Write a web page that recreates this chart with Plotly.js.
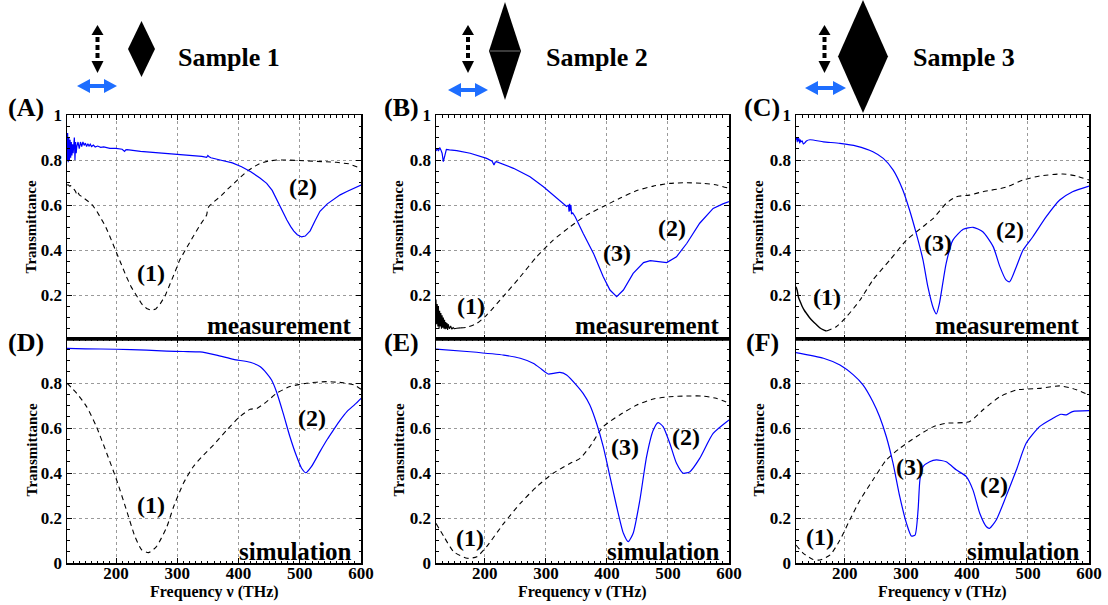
<!DOCTYPE html>
<html><head><meta charset="utf-8">
<script src="https://cdn.plot.ly/plotly-3.0.1.min.js"></script>
<style>html,body{margin:0;padding:0;background:#fff}</style>
</head><body><div id="chart" style="width:1108px;height:605px"></div>
<script>
// ---------------- DATA (frequency in THz, transmittance) ----------------
// Panel A: Sample 1 measurement
const aBlueF = [120,121,122,123,124,125,126,127,128,129, 130,131,132,133,134,135,136,138,140,142, 144,146,148,150,152,154,156,158,160,163, 166,170,175,180,190,200,210,214,216,218, 225,240,260,280,300,320,340,348,350,352, 355,370,390,405,420,435,446,455,462,470, 479,485,490,496,503,509,517,525,533,545, 555,566,577,590,600];
const aBlueT = [0.80,0.92,0.79,0.90,0.80,0.89,0.81,0.88,0.82,0.87, 0.83,0.86,0.90,0.80,0.88,0.83,0.86,0.88,0.85,0.88, 0.86,0.88,0.865,0.875,0.86,0.872,0.862,0.87,0.86,0.866, 0.858,0.862,0.856,0.858,0.852,0.852,0.848,0.838,0.845,0.846, 0.843,0.838,0.834,0.830,0.827,0.822,0.816,0.812,0.82,0.814, 0.81,0.80,0.787,0.77,0.748,0.72,0.696,0.665,0.625,0.58, 0.533,0.505,0.485,0.468,0.458,0.462,0.485,0.53,0.572,0.605, 0.625,0.645,0.66,0.676,0.689];
const aBlackF = [120,122,124,126,128,130,132,134,136,138, 140,145,152,160,168,175,182,190,201,210, 217,225,234,242,250,258,265,272,280,288, 296,304,315,326,337,348,350,352,360,370, 381,392,403,413,424,435,448,462,480,500, 520,540,560,580,600];
const aBlackT = [0.689,0.69,0.684,0.686,0.681,0.676,0.668,0.66,0.646,0.655, 0.645,0.636,0.622,0.605,0.575,0.545,0.51,0.46,0.385,0.33, 0.281,0.235,0.193,0.16,0.14,0.132,0.138,0.16,0.195,0.245, 0.30,0.356,0.41,0.46,0.51,0.555,0.585,0.595,0.615,0.637, 0.667,0.696,0.722,0.748,0.768,0.785,0.795,0.80,0.80,0.797, 0.795,0.793,0.79,0.783,0.763];
// Panel B: Sample 2 measurement
const bBlueF = [120,122,124,126,128,130,132,134,137,142, 154,176,203,212,215,217,219,247,274,296, 318,334,337,338,339,340,341,342,344,348, 361,378,394,405,416,427,443,460,471,487, 498,514,531,552,574,590,600];
const bBlueT = [0.84,0.85,0.84,0.855,0.845,0.83,0.793,0.82,0.847,0.845, 0.842,0.83,0.807,0.795,0.778,0.79,0.793,0.763,0.726,0.681, 0.63,0.593,0.6,0.57,0.605,0.575,0.6,0.56,0.565,0.548, 0.474,0.385,0.281,0.222,0.193,0.222,0.296,0.344,0.353,0.348, 0.344,0.37,0.43,0.519,0.585,0.605,0.615];
const bNoiseF = [120,121,122,123,124,125,126,127,128,129, 130,131,132,133,134,135,136,137,138,139, 140,142,144,146,148,150,154,160];
const bNoiseT = [0.18,0.07,0.16,0.06,0.15,0.05,0.13,0.06,0.12,0.05, 0.11,0.055,0.10,0.05,0.09,0.048,0.08,0.05,0.075,0.045, 0.07,0.05,0.062,0.048,0.055,0.05,0.052,0.054];
const bBlackF = [160,170,187,203,230,258,285,312,340,367, 394,421,449,476,503,531,558,580,600];
const bBlackT = [0.054,0.056,0.074,0.111,0.193,0.281,0.37,0.444,0.504,0.556, 0.593,0.63,0.664,0.684,0.696,0.699,0.696,0.689,0.674];
// Panel C: Sample 3 measurement
const cBlueF = [120,121,122,123,124,125,126,127,128,130, 132,134,137,143,165,192,219,246,263,279, 295,306,317,328,336,345,350,355,366,377, 394,410,426,443,454,464,470,481,492,508, 530,552,573,600];
const cBlueT = [0.89,0.9,0.88,0.9,0.885,0.895,0.875,0.89,0.88,0.885, 0.871,0.875,0.885,0.89,0.881,0.874,0.862,0.837,0.807,0.756, 0.667,0.578,0.474,0.356,0.237,0.141,0.116,0.163,0.341,0.444, 0.492,0.501,0.481,0.415,0.326,0.267,0.259,0.326,0.4,0.459, 0.548,0.622,0.659,0.684];
const cNoiseF = [120,122,124,127,130,134,137,142,148,154, 160,165,170];
const cNoiseT = [0.237,0.22,0.19,0.17,0.15,0.13,0.119,0.1,0.082,0.067, 0.052,0.045,0.04];
const cBlackF = [170,186,203,225,246,274,301,328,345,366, 383,404,426,464,492,519,557,579,600];
const cBlackT = [0.04,0.059,0.104,0.178,0.267,0.356,0.444,0.504,0.541,0.607, 0.637,0.644,0.659,0.679,0.711,0.729,0.738,0.729,0.711];
// Panel D: Sample 1 simulation
const dBlueF = [120,150,200,250,283,310,337,364,392,419, 435,446,454,462,473,484,495,503,510,519, 533,545,555,566,577,590,600];
const dBlueT = [0.954,0.952,0.95,0.946,0.942,0.94,0.938,0.924,0.905,0.892, 0.873,0.843,0.813,0.761,0.665,0.561,0.473,0.421,0.401,0.428, 0.495,0.55,0.591,0.635,0.673,0.705,0.732];
const dBlackF = [120,136,152,168,185,201,217,231,242,253, 266,283,294,310,326,343,359,381,402,419, 430,446,462,484,511,544,571,590,600];
const dBlackT = [0.799,0.754,0.695,0.606,0.487,0.369,0.236,0.117,0.058,0.046, 0.073,0.161,0.25,0.354,0.428,0.48,0.524,0.591,0.65,0.683, 0.687,0.717,0.754,0.784,0.799,0.806,0.801,0.79,0.772];
// Panel E: Sample 2 simulation
const eBlueF = [120,176,231,258,280,293,304,312,323,334, 350,361,372,383,394,405,416,427,435,443, 454,465,476,484,492,503,514,525,536,552, 574,600];
const eBlueT = [0.951,0.939,0.924,0.91,0.887,0.861,0.84,0.843,0.847,0.836, 0.791,0.754,0.702,0.621,0.517,0.384,0.25,0.132,0.095,0.132, 0.28,0.473,0.591,0.624,0.606,0.532,0.443,0.399,0.406,0.465, 0.576,0.636];
const eBlackF = [120,133,149,171,187,203,231,258,285,312, 340,356,372,394,421,449,476,503,530,557, 579,600];
const eBlackT = [0.176,0.117,0.05,0.021,0.028,0.073,0.176,0.265,0.339,0.399, 0.443,0.465,0.517,0.606,0.658,0.702,0.729,0.739,0.742,0.742, 0.732,0.71];
// Panel F: Sample 3 simulation
const fBlueF = [120,165,192,214,230,246,257,268,279,290, 301,309,315,320,323,328,339,350,366,383, 399,410,421,432,437,448,464,481,497,519, 541,554,563,573,600];
const fBlueT = [0.935,0.91,0.88,0.836,0.791,0.717,0.65,0.561,0.443,0.295, 0.176,0.12,0.124,0.236,0.369,0.428,0.45,0.458,0.45,0.413, 0.384,0.324,0.221,0.161,0.154,0.191,0.295,0.413,0.532,0.606, 0.643,0.661,0.658,0.673,0.677];
const fBlackF = [120,132,148,159,176,192,208,225,246,268, 290,317,345,366,404,426,454,481,519,552, 573,600];
const fBlackT = [0.08,0.043,0.016,0.013,0.036,0.102,0.191,0.28,0.369,0.458, 0.51,0.561,0.606,0.621,0.628,0.68,0.739,0.769,0.776,0.787, 0.776,0.747];

// Labels
const sampleNames = ['Sample 1','Sample 2','Sample 3'];
const panelLetters = ['(A)','(B)','(C)','(D)','(E)','(F)'];
const rowNames = ['measurement','simulation'];
const yTitle = 'Transmittance';
const xTitle = 'Frequency ν (THz)';
const topTicks = [0.2,0.4,0.6,0.8,1];
const botTicks = [0,0.2,0.4,0.6,0.8];
const xTicks = [200,300,400,500,600];
// peak labels: [panelIndex, text, freq, T]
const peakLabels = [
  [0,'(1)',257,0.30],[0,'(2)',506,0.68],
  [1,'(1)',177,0.15],[1,'(3)',416,0.385],[1,'(2)',506,0.497],
  [2,'(1)',171,0.193],[2,'(3)',352,0.43],[2,'(2)',470,0.489],
  [3,'(1)',257,0.258],[3,'(2)',520,0.643],
  [4,'(1)',176,0.11],[4,'(3)',429,0.517],[4,'(2)',530,0.561],
  [5,'(1)',159,0.117],[5,'(3)',307,0.428],[5,'(2)',444,0.347]
];

// ---------------- LAYOUT ----------------
const W=1108,H=605;
const PX=v=>v/W, PY=v=>1-v/H;
const FONT='Liberation Serif, Times New Roman, serif';
const cols=[[67,361],[436,729],[796,1089]];
const rows=[[115,340],[338,563]];
const BLUE='rgb(0,0,255)';

const traces=[];
function addLine(p, f, t, color, dash, width, shape){
  const s = p===0?'':String(p+1);
  traces.push({x:f,y:t,xaxis:'x'+s,yaxis:'y'+s,type:'scatter',mode:'lines',
    line:{color:color,width:width,dash:dash,shape:shape||'linear',smoothing:0.6},hoverinfo:'skip',showlegend:false});
}
addLine(0,aBlackF,aBlackT,'#000','5px,4px',1.1);
addLine(0,aBlueF,aBlueT,BLUE,'solid',1.2);
addLine(1,bNoiseF,bNoiseT,'#000','solid',1.1);
addLine(1,bBlackF,bBlackT,'#000','5px,4px',1.1,'spline');
addLine(1,bBlueF,bBlueT,BLUE,'solid',1.2);
addLine(2,cNoiseF,cNoiseT,'#000','solid',1.4,'spline');
addLine(2,cBlackF,cBlackT,'#000','5px,4px',1.1,'spline');
addLine(2,cBlueF,cBlueT,BLUE,'solid',1.2,'spline');
addLine(3,dBlackF,dBlackT,'#000','5px,4px',1.1,'spline');
addLine(3,dBlueF,dBlueT,BLUE,'solid',1.2,'spline');
addLine(4,eBlackF,eBlackT,'#000','5px,4px',1.1,'spline');
addLine(4,eBlueF,eBlueT,BLUE,'solid',1.2,'spline');
addLine(5,fBlackF,fBlackT,'#000','5px,4px',1.1,'spline');
addLine(5,fBlueF,fBlueT,BLUE,'solid',1.2,'spline');

const layout={width:W,height:H,margin:{l:0,r:0,t:0,b:0},paper_bgcolor:'#fff',plot_bgcolor:'#fff',
  showlegend:false,annotations:[],shapes:[]};
const tickfont={family:FONT,size:17,weight:'bold',color:'#000'};
for(let p=0;p<6;p++){
  const c=p%3, r=Math.floor(p/3), s=p===0?'':String(p+1);
  layout['xaxis'+s]={domain:[PX(cols[c][0]),PX(cols[c][1])],anchor:'y'+s,range:[120,600],
    tickmode:'array',tickvals:xTicks,showticklabels:r===1,ticks:'inside',ticklen:5,tickcolor:'#000',
    showline:true,linecolor:'#000',linewidth:1.5,mirror:'allticks',showgrid:true,gridcolor:'#9a9a9a',
    griddash:'dot',gridwidth:1,zeroline:false,tickfont:tickfont,fixedrange:true,ticklabelstandoff:-6,
    minor:{tickmode:'linear',tick0:0,dtick:10,ticks:'inside',ticklen:2.5,tickcolor:'#000',showgrid:false}};
  layout['yaxis'+s]={domain:[PY(rows[r][1]),PY(rows[r][0])],anchor:'x'+s,range:[0,1],
    tickmode:'array',tickvals:r===0?topTicks:botTicks,ticks:'inside',ticklen:5,tickcolor:'#000',
    showline:true,linecolor:'#000',linewidth:1.5,mirror:'allticks',showgrid:true,gridcolor:'#9a9a9a',
    griddash:'dot',gridwidth:1,zeroline:false,tickfont:tickfont,fixedrange:true,ticklabelstandoff:0,
    minor:{tickmode:'linear',tick0:0,dtick:0.05,ticks:'inside',ticklen:2.5,tickcolor:'#000',showgrid:false}};
  // panel letter
  layout.annotations.push({xref:'paper',yref:'paper',x:PX(c===0?26:(c===1?401:762)),y:PY(r===0?108:342),
    text:panelLetters[p],showarrow:false,xanchor:'center',yanchor:'middle',
    font:{family:FONT,size:26,weight:'bold',color:'#000'}});
  // y title
  layout.annotations.push({xref:'paper',yref:'paper',x:PX(c===0?31:(c===1?398:758)),
    y:PY((rows[r][0]+rows[r][1])/2),text:yTitle,textangle:-90,showarrow:false,xanchor:'center',yanchor:'middle',
    font:{family:FONT,size:15,weight:'bold',color:'#000'}});
  // row name
  layout.annotations.push({xref:'paper',yref:'paper',x:PX(cols[c][1]-7),y:PY(r===0?325:551),
    text:rowNames[r],showarrow:false,xanchor:'right',yanchor:'middle',
    font:{family:FONT,size:25,weight:'bold',color:'#000'}});
}
peakLabels.forEach(([p,t,f,v])=>{
  const s=p===0?'':String(p+1);
  layout.annotations.push({xref:'x'+s,yref:'y'+s,x:f,y:v,text:t,showarrow:false,xanchor:'center',yanchor:'middle',
    font:{family:FONT,size:24,weight:'bold',color:'#000'}});
});
for(let c=0;c<3;c++){
  layout.annotations.push({xref:'paper',yref:'paper',x:PX((cols[c][0]+cols[c][1])/2),y:PY(592),text:xTitle,
    showarrow:false,xanchor:'center',yanchor:'middle',font:{family:FONT,size:16,weight:'bold',color:'#000'}});
  layout.shapes.push({type:'line',xref:'paper',yref:'paper',x0:PX(cols[c][0]),x1:PX(cols[c][1]),
    y0:PY(339),y1:PY(339),line:{color:'#000',width:3.5}});
}
// schematic icons above each column
const icons=[
  {dot:97.5,dy:[25,73],blue:[77,117,86],dia:[128,155,21,77],text:176},
  {dot:468,dy:[25,73],blue:[448,488,90],dia:[489,521,2,100],text:544},
  {dot:824.5,dy:[25,73],blue:[805,846,88],dia:[838,888,0,113],text:911}
];
function path(pts){return 'M '+pts.map(p=>PX(p[0])+','+PY(p[1])).join(' L ')+' Z';}
icons.forEach((ic,i)=>{
  const cx=ic.dot, t=ic.dy[0], b=ic.dy[1];
  layout.shapes.push({type:'path',xref:'paper',yref:'paper',path:path([[cx,t],[cx+6,t+10],[cx-6,t+10]]),fillcolor:'#000',line:{width:0}});
  layout.shapes.push({type:'path',xref:'paper',yref:'paper',path:path([[cx,b],[cx+6,b-12],[cx-6,b-12]]),fillcolor:'#000',line:{width:0}});
  [[37,42],[45,50],[53,58]].forEach(([y0,y1])=>{
    layout.shapes.push({type:'rect',xref:'paper',yref:'paper',x0:PX(cx-2),x1:PX(cx+2),y0:PY(y1),y1:PY(y0),fillcolor:'#000',line:{width:0}});
  });
  const [l,r,cy]=ic.blue;
  layout.shapes.push({type:'path',xref:'paper',yref:'paper',
    path:path([[l,cy],[l+13,cy-7],[l+13,cy-2],[r-13,cy-2],[r-13,cy-7],[r,cy],[r-13,cy+7],[r-13,cy+2],[l+13,cy+2],[l+13,cy+7]]),
    fillcolor:'rgb(30,110,255)',line:{width:0}});
  const [dl,dr,dt,db]=ic.dia, dcx=(dl+dr)/2, dcy=(dt+db)/2;
  layout.shapes.push({type:'path',xref:'paper',yref:'paper',path:path([[dcx,dt],[dr,dcy],[dcx,db],[dl,dcy]]),fillcolor:'#000',line:{width:0}});
  if(i===1){layout.shapes.push({type:'line',xref:'paper',yref:'paper',x0:PX(dl+1),x1:PX(dr-1),y0:PY(dcy),y1:PY(dcy),line:{color:'#777',width:1}});}
  layout.annotations.push({xref:'paper',yref:'paper',x:PX(ic.text),y:PY(57.5),text:sampleNames[i],showarrow:false,
    xanchor:'left',yanchor:'middle',font:{family:FONT,size:26,weight:'bold',color:'#000'}});
});
Plotly.newPlot('chart',traces,layout,{staticPlot:true,displayModeBar:false});
</script></body></html>
